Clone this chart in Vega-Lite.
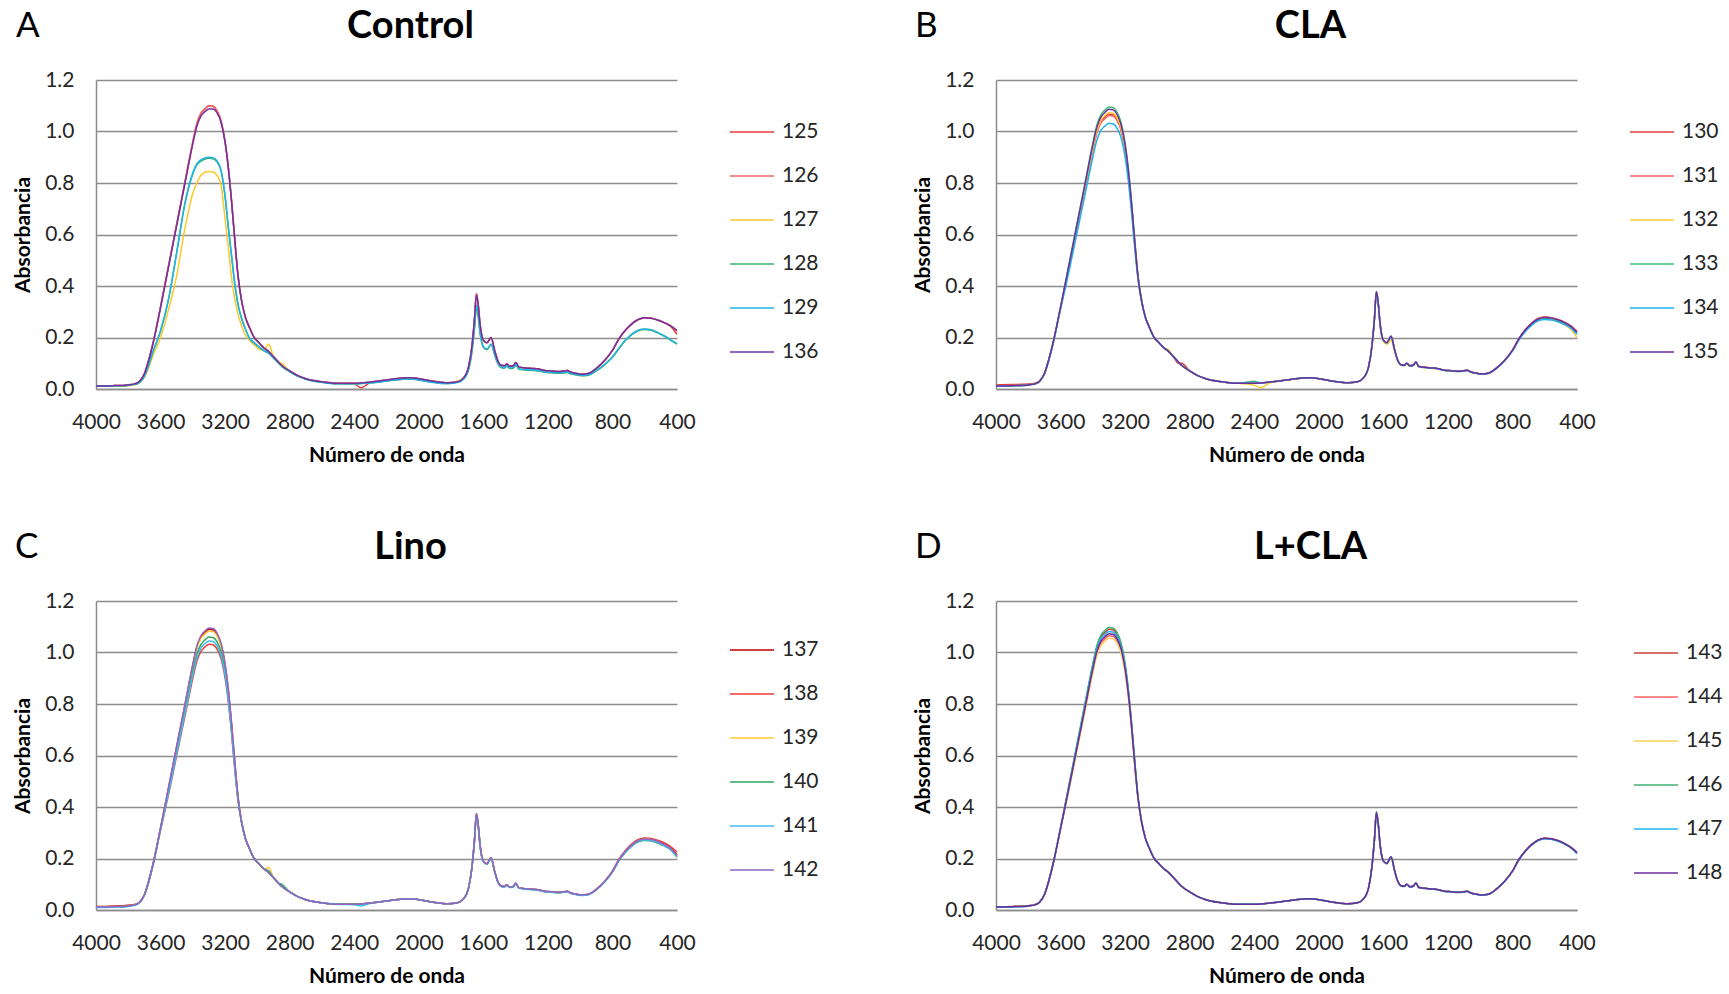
{
"$schema": "https://vega.github.io/schema/vega-lite/v6.json",
"background": "white",
"padding": {"left": 12, "top": 8, "right": 4, "bottom": 4},
"resolve": {"scale": {"color": "independent"}, "legend": {"color": "independent"}},
"config": {
  "font": "Lato",
  "view": {"stroke": null},
  "axis": {"labelFont": "Lato", "labelFontSize": 21, "labelColor": "#262626", "titleFont": "Lato", "titleFontSize": 21, "titleFontWeight": "bold", "titleColor": "#000000", "ticks": false, "domainColor": "#8c8c8c", "domainWidth": 1.5, "gridColor": "#8c8c8c", "gridWidth": 1.5},
  "axisX": {"grid": false, "labelPadding": 22, "titlePadding": 12, "values": [4000, 3600, 3200, 2800, 2400, 2000, 1600, 1200, 800, 400], "labelFlush": false, "format": "d"},
  "axisY": {"labelPadding": 22, "titlePadding": 11, "values": [0, 0.2, 0.4, 0.6, 0.8, 1.0, 1.2], "format": ".1f"},
  "legend": {"title": null, "orient": "none", "direction": "vertical", "symbolType": "stroke", "symbolSize": 1936, "symbolStrokeWidth": 1.5, "labelFont": "Lato", "labelFontSize": 21, "labelColor": "#262626", "labelOffset": 7, "rowPadding": 11, "padding": 0},
  "title": {"font": "Lato", "fontSize": 38, "fontWeight": "bold", "color": "#000000", "frame": "group", "anchor": "middle", "dx": 24, "offset": -37, "baseline": "alphabetic"},
  "line": {"strokeWidth": 1.5, "interpolate": "monotone"}
},
"datasets": {
"A": [
{"w":4000,"125":0.012,"126":0.012,"127":0.01,"128":0.011,"129":0.011,"136":0.012},
{"w":3900,"125":0.013,"126":0.013,"127":0.011,"128":0.012,"129":0.012,"136":0.013},
{"w":3800,"125":0.016,"126":0.016,"127":0.013,"128":0.015,"129":0.015,"136":0.016},
{"w":3760,"125":0.02,"126":0.02,"127":0.016,"128":0.018,"129":0.018,"136":0.02},
{"w":3730,"125":0.03,"126":0.03,"127":0.024,"128":0.026,"129":0.026,"136":0.03},
{"w":3700,"125":0.06,"126":0.06,"127":0.045,"128":0.05,"129":0.05,"136":0.058},
{"w":3675,"125":0.11,"126":0.11,"127":0.08,"128":0.09,"129":0.09,"136":0.107},
{"w":3650,"125":0.17,"126":0.17,"127":0.125,"128":0.14,"129":0.14,"136":0.167},
{"w":3600,"125":0.32,"126":0.32,"127":0.2,"128":0.225,"129":0.225,"136":0.315},
{"w":3550,"125":0.48,"126":0.48,"127":0.31,"128":0.35,"129":0.35,"136":0.475},
{"w":3500,"125":0.64,"126":0.64,"127":0.44,"128":0.53,"129":0.53,"136":0.635},
{"w":3450,"125":0.8,"126":0.8,"127":0.62,"128":0.715,"129":0.72,"136":0.795},
{"w":3400,"125":0.96,"126":0.96,"127":0.76,"128":0.835,"129":0.84,"136":0.952},
{"w":3375,"125":1.03,"126":1.03,"127":0.8,"128":0.87,"129":0.875,"136":1.02},
{"w":3350,"125":1.07,"126":1.07,"127":0.83,"128":0.885,"129":0.89,"136":1.06},
{"w":3325,"125":1.088,"126":1.088,"127":0.842,"128":0.893,"129":0.897,"136":1.077},
{"w":3300,"125":1.1,"126":1.1,"127":0.845,"128":0.896,"129":0.9,"136":1.087},
{"w":3275,"125":1.098,"126":1.098,"127":0.843,"128":0.894,"129":0.898,"136":1.087},
{"w":3250,"125":1.08,"126":1.08,"127":0.83,"128":0.882,"129":0.886,"136":1.072},
{"w":3225,"125":1.04,"126":1.04,"127":0.79,"128":0.846,"129":0.85,"136":1.035},
{"w":3200,"125":0.96,"126":0.96,"127":0.66,"128":0.745,"129":0.75,"136":0.958},
{"w":3180,"125":0.86,"126":0.86,"127":0.55,"128":0.625,"129":0.63,"136":0.858},
{"w":3160,"125":0.73,"126":0.73,"127":0.43,"128":0.515,"129":0.52,"136":0.728},
{"w":3140,"125":0.58,"126":0.58,"127":0.35,"128":0.405,"129":0.41,"136":0.578},
{"w":3120,"125":0.44,"126":0.44,"127":0.29,"128":0.327,"129":0.33,"136":0.44},
{"w":3100,"125":0.35,"126":0.35,"127":0.25,"128":0.277,"129":0.28,"136":0.35},
{"w":3075,"125":0.28,"126":0.28,"127":0.21,"128":0.233,"129":0.235,"136":0.28},
{"w":3050,"125":0.24,"126":0.24,"127":0.19,"128":0.198,"129":0.2,"136":0.24},
{"w":3020,"125":0.2,"126":0.2,"127":0.17,"128":0.178,"129":0.18,"136":0.2},
{"w":2990,"125":0.18,"126":0.18,"127":0.155,"128":0.163,"129":0.165,"136":0.18},
{"w":2960,"125":0.16,"126":0.16,"127":0.15,"128":0.148,"129":0.15,"136":0.16},
{"w":2930,"125":0.145,"126":0.145,"127":0.175,"128":0.138,"129":0.14,"136":0.145},
{"w":2900,"125":0.125,"126":0.125,"127":0.125,"128":0.12,"129":0.122,"136":0.125},
{"w":2870,"125":0.105,"126":0.105,"127":0.105,"128":0.101,"129":0.103,"136":0.105},
{"w":2850,"125":0.092,"126":0.092,"127":0.1,"128":0.088,"129":0.09,"136":0.092},
{"w":2800,"125":0.07,"126":0.07,"127":0.068,"128":0.067,"129":0.068,"136":0.07},
{"w":2750,"125":0.052,"126":0.052,"127":0.05,"128":0.05,"129":0.05,"136":0.052},
{"w":2700,"125":0.04,"126":0.04,"127":0.039,"128":0.038,"129":0.039,"136":0.04},
{"w":2600,"125":0.028,"126":0.028,"127":0.027,"128":0.026,"129":0.026,"136":0.028},
{"w":2500,"125":0.022,"126":0.022,"127":0.021,"128":0.02,"129":0.02,"136":0.022},
{"w":2400,"125":0.02,"126":0.022,"127":0.021,"128":0.02,"129":0.02,"136":0.022},
{"w":2360,"125":0.005,"126":0.023,"127":0.022,"128":0.021,"129":0.021,"136":0.023},
{"w":2300,"125":0.025,"126":0.027,"127":0.025,"128":0.024,"129":0.024,"136":0.027},
{"w":2200,"125":0.035,"126":0.035,"127":0.032,"128":0.031,"129":0.031,"136":0.035},
{"w":2100,"125":0.043,"126":0.043,"127":0.039,"128":0.038,"129":0.038,"136":0.043},
{"w":2050,"125":0.044,"126":0.044,"127":0.04,"128":0.039,"129":0.039,"136":0.044},
{"w":2000,"125":0.04,"126":0.04,"127":0.036,"128":0.035,"129":0.035,"136":0.04},
{"w":1900,"125":0.029,"126":0.029,"127":0.026,"128":0.025,"129":0.025,"136":0.029},
{"w":1820,"125":0.024,"126":0.024,"127":0.022,"128":0.021,"129":0.021,"136":0.024},
{"w":1760,"125":0.028,"126":0.028,"127":0.03,"128":0.026,"129":0.026,"136":0.028},
{"w":1720,"125":0.045,"126":0.045,"127":0.045,"128":0.04,"129":0.04,"136":0.045},
{"w":1690,"125":0.09,"126":0.09,"127":0.078,"128":0.08,"129":0.08,"136":0.09},
{"w":1670,"125":0.17,"126":0.17,"127":0.145,"128":0.15,"129":0.15,"136":0.17},
{"w":1655,"125":0.27,"126":0.27,"127":0.23,"128":0.237,"129":0.24,"136":0.27},
{"w":1643,"125":0.37,"126":0.372,"127":0.31,"128":0.32,"129":0.325,"136":0.365},
{"w":1632,"125":0.33,"126":0.332,"127":0.28,"128":0.287,"129":0.29,"136":0.328},
{"w":1620,"125":0.25,"126":0.25,"127":0.215,"128":0.218,"129":0.22,"136":0.25},
{"w":1600,"125":0.19,"126":0.19,"127":0.163,"128":0.163,"129":0.165,"136":0.19},
{"w":1578,"125":0.18,"126":0.18,"127":0.153,"128":0.153,"129":0.155,"136":0.18},
{"w":1552,"125":0.2,"126":0.2,"127":0.172,"128":0.173,"129":0.175,"136":0.2},
{"w":1530,"125":0.15,"126":0.15,"127":0.133,"128":0.133,"129":0.135,"136":0.15},
{"w":1510,"125":0.11,"126":0.11,"127":0.098,"128":0.098,"129":0.1,"136":0.11},
{"w":1490,"125":0.092,"126":0.092,"127":0.083,"128":0.083,"129":0.085,"136":0.092},
{"w":1470,"125":0.09,"126":0.09,"127":0.081,"128":0.081,"129":0.083,"136":0.09},
{"w":1455,"125":0.097,"126":0.097,"127":0.088,"128":0.088,"129":0.09,"136":0.097},
{"w":1435,"125":0.088,"126":0.088,"127":0.08,"128":0.08,"129":0.082,"136":0.088},
{"w":1415,"125":0.09,"126":0.09,"127":0.081,"128":0.081,"129":0.083,"136":0.09},
{"w":1398,"125":0.103,"126":0.103,"127":0.093,"128":0.093,"129":0.095,"136":0.103},
{"w":1380,"125":0.085,"126":0.085,"127":0.077,"128":0.077,"129":0.078,"136":0.085},
{"w":1340,"125":0.082,"126":0.082,"127":0.075,"128":0.074,"129":0.076,"136":0.082},
{"w":1300,"125":0.08,"126":0.08,"127":0.073,"128":0.072,"129":0.074,"136":0.08},
{"w":1260,"125":0.078,"126":0.078,"127":0.071,"128":0.07,"129":0.072,"136":0.078},
{"w":1220,"125":0.072,"126":0.072,"127":0.066,"128":0.065,"129":0.067,"136":0.072},
{"w":1180,"125":0.07,"126":0.07,"127":0.064,"128":0.063,"129":0.065,"136":0.07},
{"w":1130,"125":0.068,"126":0.068,"127":0.062,"128":0.061,"129":0.063,"136":0.068},
{"w":1080,"125":0.072,"126":0.072,"127":0.065,"128":0.064,"129":0.066,"136":0.072},
{"w":1060,"125":0.066,"126":0.066,"127":0.06,"128":0.059,"129":0.061,"136":0.066},
{"w":1020,"125":0.06,"126":0.06,"127":0.055,"128":0.054,"129":0.056,"136":0.06},
{"w":990,"125":0.057,"126":0.057,"127":0.052,"128":0.051,"129":0.053,"136":0.057},
{"w":950,"125":0.06,"126":0.06,"127":0.054,"128":0.053,"129":0.055,"136":0.06},
{"w":900,"125":0.08,"126":0.08,"127":0.071,"128":0.07,"129":0.072,"136":0.08},
{"w":850,"125":0.11,"126":0.11,"127":0.094,"128":0.093,"129":0.095,"136":0.11},
{"w":800,"125":0.15,"126":0.15,"127":0.124,"128":0.123,"129":0.125,"136":0.15},
{"w":760,"125":0.195,"126":0.195,"127":0.157,"128":0.156,"129":0.158,"136":0.195},
{"w":720,"125":0.228,"126":0.228,"127":0.189,"128":0.188,"129":0.19,"136":0.228},
{"w":680,"125":0.253,"126":0.253,"127":0.212,"128":0.211,"129":0.213,"136":0.253},
{"w":640,"125":0.27,"126":0.27,"127":0.227,"128":0.226,"129":0.228,"136":0.27},
{"w":600,"125":0.277,"126":0.277,"127":0.232,"128":0.231,"129":0.233,"136":0.277},
{"w":560,"125":0.275,"126":0.275,"127":0.229,"128":0.228,"129":0.23,"136":0.275},
{"w":520,"125":0.268,"126":0.268,"127":0.219,"128":0.218,"129":0.22,"136":0.268},
{"w":480,"125":0.258,"126":0.258,"127":0.206,"128":0.205,"129":0.207,"136":0.258},
{"w":440,"125":0.244,"126":0.246,"127":0.191,"128":0.19,"129":0.192,"136":0.245},
{"w":400,"125":0.212,"126":0.225,"127":0.175,"128":0.174,"129":0.176,"136":0.228}
],
"B": [
{"w":4000,"130":0.016,"131":0.013,"132":0.011,"133":0.012,"134":0.011,"135":0.012},
{"w":3900,"130":0.017,"131":0.014,"132":0.012,"133":0.013,"134":0.012,"135":0.013},
{"w":3800,"130":0.019,"131":0.017,"132":0.015,"133":0.016,"134":0.015,"135":0.016},
{"w":3760,"130":0.022,"131":0.02,"132":0.019,"133":0.02,"134":0.019,"135":0.02},
{"w":3730,"130":0.031,"131":0.03,"132":0.029,"133":0.03,"134":0.029,"135":0.03},
{"w":3700,"130":0.06,"131":0.059,"132":0.058,"133":0.06,"134":0.057,"135":0.06},
{"w":3675,"130":0.11,"131":0.108,"132":0.108,"133":0.11,"134":0.105,"135":0.11},
{"w":3650,"130":0.169,"131":0.168,"132":0.168,"133":0.17,"134":0.165,"135":0.17},
{"w":3600,"130":0.315,"131":0.314,"132":0.316,"133":0.319,"134":0.31,"135":0.318},
{"w":3550,"130":0.466,"131":0.463,"132":0.468,"133":0.478,"134":0.45,"135":0.474},
{"w":3500,"130":0.621,"131":0.618,"132":0.624,"133":0.637,"134":0.6,"135":0.632},
{"w":3450,"130":0.777,"131":0.772,"132":0.78,"133":0.796,"134":0.75,"135":0.79},
{"w":3400,"130":0.932,"131":0.926,"132":0.936,"133":0.955,"134":0.9,"135":0.948},
{"w":3375,"130":1.0,"131":0.994,"132":1.004,"133":1.025,"134":0.966,"135":1.017},
{"w":3350,"130":1.039,"131":1.033,"132":1.043,"133":1.065,"134":1.004,"135":1.056},
{"w":3325,"130":1.056,"131":1.05,"132":1.061,"133":1.083,"134":1.021,"135":1.074},
{"w":3300,"130":1.068,"131":1.062,"132":1.073,"133":1.095,"134":1.032,"135":1.086},
{"w":3275,"130":1.066,"131":1.06,"132":1.071,"133":1.093,"134":1.03,"135":1.084},
{"w":3250,"130":1.049,"131":1.042,"132":1.053,"133":1.075,"134":1.013,"135":1.066},
{"w":3225,"130":1.01,"131":1.004,"132":1.014,"133":1.035,"134":0.976,"135":1.026},
{"w":3200,"130":0.932,"131":0.926,"132":0.936,"133":0.955,"134":0.9,"135":0.948},
{"w":3180,"130":0.835,"131":0.83,"132":0.839,"133":0.856,"134":0.807,"135":0.849},
{"w":3160,"130":0.709,"131":0.704,"132":0.712,"133":0.726,"134":0.685,"135":0.721},
{"w":3140,"130":0.563,"131":0.56,"132":0.566,"133":0.577,"134":0.544,"135":0.572},
{"w":3120,"130":0.434,"131":0.432,"132":0.435,"133":0.439,"134":0.426,"135":0.437},
{"w":3100,"130":0.35,"131":0.35,"132":0.35,"133":0.35,"134":0.345,"135":0.35},
{"w":3075,"130":0.28,"131":0.28,"132":0.28,"133":0.28,"134":0.277,"135":0.28},
{"w":3050,"130":0.24,"131":0.24,"132":0.24,"133":0.24,"134":0.238,"135":0.24},
{"w":3020,"130":0.2,"131":0.2,"132":0.2,"133":0.2,"134":0.199,"135":0.2},
{"w":2990,"130":0.18,"131":0.18,"132":0.18,"133":0.18,"134":0.18,"135":0.18},
{"w":2960,"130":0.16,"131":0.16,"132":0.16,"133":0.16,"134":0.16,"135":0.16},
{"w":2930,"130":0.145,"131":0.145,"132":0.152,"133":0.145,"134":0.145,"135":0.145},
{"w":2900,"130":0.125,"131":0.125,"132":0.125,"133":0.125,"134":0.125,"135":0.125},
{"w":2870,"130":0.1,"131":0.105,"132":0.105,"133":0.105,"134":0.105,"135":0.105},
{"w":2850,"130":0.1,"131":0.092,"132":0.092,"133":0.092,"134":0.092,"135":0.092},
{"w":2800,"130":0.07,"131":0.07,"132":0.07,"133":0.07,"134":0.07,"135":0.07},
{"w":2750,"130":0.052,"131":0.052,"132":0.052,"133":0.052,"134":0.052,"135":0.052},
{"w":2700,"130":0.04,"131":0.04,"132":0.04,"133":0.04,"134":0.04,"135":0.04},
{"w":2600,"130":0.028,"131":0.028,"132":0.028,"133":0.028,"134":0.028,"135":0.028},
{"w":2500,"130":0.022,"131":0.022,"132":0.022,"133":0.022,"134":0.022,"135":0.022},
{"w":2400,"130":0.022,"131":0.022,"132":0.015,"133":0.03,"134":0.022,"135":0.022},
{"w":2360,"130":0.023,"131":0.023,"132":0.005,"133":0.024,"134":0.023,"135":0.023},
{"w":2300,"130":0.027,"131":0.027,"132":0.024,"133":0.027,"134":0.027,"135":0.027},
{"w":2200,"130":0.035,"131":0.035,"132":0.035,"133":0.035,"134":0.035,"135":0.035},
{"w":2100,"130":0.043,"131":0.043,"132":0.043,"133":0.043,"134":0.043,"135":0.043},
{"w":2050,"130":0.044,"131":0.044,"132":0.044,"133":0.044,"134":0.044,"135":0.044},
{"w":2000,"130":0.04,"131":0.04,"132":0.04,"133":0.04,"134":0.04,"135":0.04},
{"w":1900,"130":0.029,"131":0.029,"132":0.029,"133":0.029,"134":0.029,"135":0.029},
{"w":1820,"130":0.024,"131":0.024,"132":0.024,"133":0.024,"134":0.024,"135":0.024},
{"w":1760,"130":0.028,"131":0.028,"132":0.028,"133":0.028,"134":0.028,"135":0.028},
{"w":1720,"130":0.045,"131":0.045,"132":0.045,"133":0.045,"134":0.045,"135":0.045},
{"w":1690,"130":0.09,"131":0.09,"132":0.09,"133":0.09,"134":0.09,"135":0.09},
{"w":1670,"130":0.17,"131":0.17,"132":0.168,"133":0.172,"134":0.168,"135":0.17},
{"w":1655,"130":0.274,"131":0.273,"132":0.268,"133":0.276,"134":0.27,"135":0.274},
{"w":1643,"130":0.378,"131":0.376,"132":0.37,"133":0.38,"134":0.372,"135":0.378},
{"w":1632,"130":0.336,"131":0.335,"132":0.33,"133":0.338,"134":0.331,"135":0.336},
{"w":1620,"130":0.252,"131":0.252,"132":0.248,"133":0.254,"134":0.25,"135":0.252},
{"w":1600,"130":0.19,"131":0.19,"132":0.186,"133":0.19,"134":0.19,"135":0.19},
{"w":1578,"130":0.18,"131":0.18,"132":0.174,"133":0.18,"134":0.18,"135":0.18},
{"w":1552,"130":0.205,"131":0.205,"132":0.19,"133":0.205,"134":0.203,"135":0.205},
{"w":1530,"130":0.152,"131":0.152,"132":0.145,"133":0.152,"134":0.15,"135":0.152},
{"w":1510,"130":0.11,"131":0.11,"132":0.108,"133":0.11,"134":0.11,"135":0.11},
{"w":1490,"130":0.094,"131":0.094,"132":0.092,"133":0.094,"134":0.093,"135":0.094},
{"w":1470,"130":0.092,"131":0.092,"132":0.09,"133":0.092,"134":0.091,"135":0.092},
{"w":1455,"130":0.1,"131":0.1,"132":0.097,"133":0.1,"134":0.099,"135":0.1},
{"w":1435,"130":0.09,"131":0.09,"132":0.088,"133":0.09,"134":0.089,"135":0.09},
{"w":1415,"130":0.092,"131":0.092,"132":0.09,"133":0.092,"134":0.091,"135":0.092},
{"w":1398,"130":0.105,"131":0.105,"132":0.102,"133":0.105,"134":0.104,"135":0.105},
{"w":1380,"130":0.087,"131":0.087,"132":0.085,"133":0.087,"134":0.086,"135":0.087},
{"w":1340,"130":0.084,"131":0.084,"132":0.082,"133":0.084,"134":0.083,"135":0.084},
{"w":1300,"130":0.082,"131":0.082,"132":0.08,"133":0.082,"134":0.081,"135":0.082},
{"w":1260,"130":0.079,"131":0.079,"132":0.078,"133":0.079,"134":0.078,"135":0.079},
{"w":1220,"130":0.073,"131":0.073,"132":0.072,"133":0.073,"134":0.072,"135":0.073},
{"w":1180,"130":0.071,"131":0.071,"132":0.07,"133":0.071,"134":0.07,"135":0.071},
{"w":1130,"130":0.069,"131":0.069,"132":0.068,"133":0.069,"134":0.068,"135":0.069},
{"w":1080,"130":0.073,"131":0.073,"132":0.072,"133":0.073,"134":0.072,"135":0.073},
{"w":1060,"130":0.067,"131":0.067,"132":0.066,"133":0.067,"134":0.066,"135":0.067},
{"w":1020,"130":0.061,"131":0.061,"132":0.06,"133":0.061,"134":0.06,"135":0.061},
{"w":990,"130":0.058,"131":0.058,"132":0.057,"133":0.058,"134":0.057,"135":0.058},
{"w":950,"130":0.061,"131":0.061,"132":0.06,"133":0.061,"134":0.06,"135":0.061},
{"w":900,"130":0.081,"131":0.081,"132":0.08,"133":0.08,"134":0.079,"135":0.081},
{"w":850,"130":0.111,"131":0.111,"132":0.109,"133":0.11,"134":0.108,"135":0.11},
{"w":800,"130":0.151,"131":0.151,"132":0.148,"133":0.149,"134":0.147,"135":0.15},
{"w":760,"130":0.196,"131":0.196,"132":0.192,"133":0.194,"134":0.19,"135":0.195},
{"w":720,"130":0.23,"131":0.23,"132":0.225,"133":0.227,"134":0.223,"135":0.229},
{"w":680,"130":0.256,"131":0.256,"132":0.25,"133":0.252,"134":0.248,"135":0.255},
{"w":640,"130":0.274,"131":0.274,"132":0.267,"133":0.269,"134":0.265,"135":0.272},
{"w":600,"130":0.28,"131":0.28,"132":0.272,"133":0.275,"134":0.27,"135":0.278},
{"w":560,"130":0.277,"131":0.277,"132":0.27,"133":0.273,"134":0.268,"135":0.276},
{"w":520,"130":0.27,"131":0.27,"132":0.262,"133":0.266,"134":0.261,"135":0.269},
{"w":480,"130":0.26,"131":0.26,"132":0.25,"133":0.256,"134":0.251,"135":0.259},
{"w":440,"130":0.245,"131":0.246,"132":0.232,"133":0.242,"134":0.237,"135":0.244},
{"w":400,"130":0.222,"131":0.226,"132":0.2,"133":0.217,"134":0.212,"135":0.22}
],
"C": [
{"w":4000,"137":0.014,"138":0.013,"139":0.012,"140":0.011,"141":0.01,"142":0.012},
{"w":3900,"137":0.015,"138":0.014,"139":0.013,"140":0.012,"141":0.011,"142":0.013},
{"w":3800,"137":0.018,"138":0.017,"139":0.016,"140":0.015,"141":0.014,"142":0.016},
{"w":3760,"137":0.021,"138":0.02,"139":0.02,"140":0.019,"141":0.018,"142":0.02},
{"w":3730,"137":0.031,"138":0.029,"139":0.03,"140":0.029,"141":0.028,"142":0.03},
{"w":3700,"137":0.06,"138":0.057,"139":0.06,"140":0.058,"141":0.057,"142":0.06},
{"w":3675,"137":0.11,"138":0.105,"139":0.109,"140":0.107,"141":0.106,"142":0.11},
{"w":3650,"137":0.17,"138":0.165,"139":0.169,"140":0.167,"141":0.166,"142":0.17},
{"w":3600,"137":0.319,"138":0.31,"139":0.318,"140":0.314,"141":0.312,"142":0.319},
{"w":3550,"137":0.476,"138":0.45,"139":0.473,"140":0.463,"141":0.456,"142":0.478},
{"w":3500,"137":0.634,"138":0.6,"139":0.63,"140":0.617,"141":0.608,"142":0.637},
{"w":3450,"137":0.793,"138":0.75,"139":0.788,"140":0.771,"141":0.76,"142":0.796},
{"w":3400,"137":0.951,"138":0.9,"139":0.946,"140":0.925,"141":0.912,"142":0.955},
{"w":3375,"137":1.021,"138":0.966,"139":1.015,"140":0.993,"141":0.979,"142":1.025},
{"w":3350,"137":1.06,"138":1.004,"139":1.054,"140":1.031,"141":1.017,"142":1.065},
{"w":3325,"137":1.078,"138":1.021,"139":1.072,"140":1.049,"141":1.034,"142":1.083},
{"w":3300,"137":1.09,"138":1.032,"139":1.083,"140":1.06,"141":1.045,"142":1.095},
{"w":3275,"137":1.088,"138":1.03,"139":1.082,"140":1.058,"141":1.043,"142":1.093},
{"w":3250,"137":1.07,"138":1.013,"139":1.064,"140":1.041,"141":1.026,"142":1.075},
{"w":3225,"137":1.031,"138":0.976,"139":1.024,"140":1.003,"141":0.988,"142":1.035},
{"w":3200,"137":0.951,"138":0.9,"139":0.946,"140":0.925,"141":0.912,"142":0.955},
{"w":3180,"137":0.852,"138":0.807,"139":0.847,"140":0.829,"141":0.817,"142":0.856},
{"w":3160,"137":0.723,"138":0.685,"139":0.719,"140":0.704,"141":0.694,"142":0.726},
{"w":3140,"137":0.575,"138":0.544,"139":0.571,"140":0.559,"141":0.551,"142":0.577},
{"w":3120,"137":0.438,"138":0.426,"139":0.437,"140":0.432,"141":0.429,"142":0.439},
{"w":3100,"137":0.35,"138":0.345,"139":0.35,"140":0.348,"141":0.347,"142":0.35},
{"w":3075,"137":0.28,"138":0.277,"139":0.28,"140":0.279,"141":0.278,"142":0.28},
{"w":3050,"137":0.24,"138":0.238,"139":0.24,"140":0.24,"141":0.239,"142":0.24},
{"w":3020,"137":0.2,"138":0.199,"139":0.2,"140":0.2,"141":0.2,"142":0.2},
{"w":2990,"137":0.18,"138":0.18,"139":0.18,"140":0.18,"141":0.18,"142":0.18},
{"w":2960,"137":0.16,"138":0.16,"139":0.158,"140":0.16,"141":0.16,"142":0.16},
{"w":2930,"137":0.145,"138":0.145,"139":0.165,"140":0.152,"141":0.145,"142":0.145},
{"w":2900,"137":0.125,"138":0.125,"139":0.125,"140":0.125,"141":0.125,"142":0.125},
{"w":2870,"137":0.105,"138":0.105,"139":0.105,"140":0.104,"141":0.105,"142":0.105},
{"w":2850,"137":0.092,"138":0.092,"139":0.092,"140":0.1,"141":0.092,"142":0.092},
{"w":2800,"137":0.07,"138":0.07,"139":0.07,"140":0.07,"141":0.07,"142":0.07},
{"w":2750,"137":0.052,"138":0.052,"139":0.052,"140":0.052,"141":0.052,"142":0.052},
{"w":2700,"137":0.04,"138":0.04,"139":0.04,"140":0.04,"141":0.04,"142":0.04},
{"w":2600,"137":0.028,"138":0.028,"139":0.028,"140":0.028,"141":0.028,"142":0.028},
{"w":2500,"137":0.022,"138":0.022,"139":0.022,"140":0.022,"141":0.022,"142":0.022},
{"w":2400,"137":0.022,"138":0.022,"139":0.022,"140":0.022,"141":0.02,"142":0.022},
{"w":2360,"137":0.023,"138":0.023,"139":0.023,"140":0.023,"141":0.016,"142":0.023},
{"w":2300,"137":0.027,"138":0.027,"139":0.027,"140":0.027,"141":0.026,"142":0.027},
{"w":2200,"137":0.035,"138":0.035,"139":0.035,"140":0.035,"141":0.035,"142":0.035},
{"w":2100,"137":0.043,"138":0.043,"139":0.043,"140":0.043,"141":0.043,"142":0.043},
{"w":2050,"137":0.044,"138":0.044,"139":0.044,"140":0.044,"141":0.044,"142":0.044},
{"w":2000,"137":0.04,"138":0.04,"139":0.04,"140":0.04,"141":0.04,"142":0.04},
{"w":1900,"137":0.029,"138":0.029,"139":0.029,"140":0.029,"141":0.029,"142":0.029},
{"w":1820,"137":0.024,"138":0.024,"139":0.024,"140":0.024,"141":0.024,"142":0.024},
{"w":1760,"137":0.028,"138":0.028,"139":0.028,"140":0.028,"141":0.028,"142":0.028},
{"w":1720,"137":0.045,"138":0.045,"139":0.045,"140":0.045,"141":0.045,"142":0.045},
{"w":1690,"137":0.09,"138":0.09,"139":0.09,"140":0.09,"141":0.09,"142":0.09},
{"w":1670,"137":0.17,"138":0.169,"139":0.17,"140":0.168,"141":0.167,"142":0.17},
{"w":1655,"137":0.272,"138":0.269,"139":0.27,"140":0.268,"141":0.266,"142":0.272},
{"w":1643,"137":0.375,"138":0.37,"139":0.372,"140":0.368,"141":0.365,"142":0.375},
{"w":1632,"137":0.334,"138":0.33,"139":0.332,"140":0.328,"141":0.326,"142":0.334},
{"w":1620,"137":0.252,"138":0.25,"139":0.25,"140":0.248,"141":0.247,"142":0.252},
{"w":1600,"137":0.19,"138":0.19,"139":0.19,"140":0.188,"141":0.188,"142":0.19},
{"w":1578,"137":0.18,"138":0.18,"139":0.18,"140":0.178,"141":0.178,"142":0.18},
{"w":1552,"137":0.203,"138":0.202,"139":0.202,"140":0.2,"141":0.2,"142":0.203},
{"w":1530,"137":0.151,"138":0.15,"139":0.15,"140":0.149,"141":0.149,"142":0.151},
{"w":1510,"137":0.11,"138":0.11,"139":0.11,"140":0.109,"141":0.109,"142":0.11},
{"w":1490,"137":0.093,"138":0.092,"139":0.092,"140":0.092,"141":0.091,"142":0.093},
{"w":1470,"137":0.091,"138":0.09,"139":0.09,"140":0.09,"141":0.089,"142":0.091},
{"w":1455,"137":0.098,"138":0.097,"139":0.097,"140":0.097,"141":0.096,"142":0.098},
{"w":1435,"137":0.089,"138":0.088,"139":0.088,"140":0.088,"141":0.087,"142":0.089},
{"w":1415,"137":0.091,"138":0.09,"139":0.09,"140":0.09,"141":0.089,"142":0.091},
{"w":1398,"137":0.104,"138":0.103,"139":0.103,"140":0.103,"141":0.102,"142":0.104},
{"w":1380,"137":0.086,"138":0.085,"139":0.085,"140":0.085,"141":0.084,"142":0.086},
{"w":1340,"137":0.083,"138":0.082,"139":0.082,"140":0.082,"141":0.081,"142":0.083},
{"w":1300,"137":0.081,"138":0.08,"139":0.08,"140":0.08,"141":0.079,"142":0.081},
{"w":1260,"137":0.079,"138":0.078,"139":0.078,"140":0.078,"141":0.077,"142":0.079},
{"w":1220,"137":0.073,"138":0.072,"139":0.072,"140":0.072,"141":0.071,"142":0.073},
{"w":1180,"137":0.071,"138":0.07,"139":0.07,"140":0.07,"141":0.069,"142":0.071},
{"w":1130,"137":0.069,"138":0.068,"139":0.068,"140":0.068,"141":0.067,"142":0.069},
{"w":1080,"137":0.073,"138":0.072,"139":0.072,"140":0.072,"141":0.071,"142":0.073},
{"w":1060,"137":0.067,"138":0.066,"139":0.066,"140":0.066,"141":0.065,"142":0.067},
{"w":1020,"137":0.061,"138":0.06,"139":0.06,"140":0.06,"141":0.059,"142":0.061},
{"w":990,"137":0.058,"138":0.057,"139":0.057,"140":0.057,"141":0.056,"142":0.058},
{"w":950,"137":0.061,"138":0.06,"139":0.06,"140":0.06,"141":0.059,"142":0.061},
{"w":900,"137":0.08,"138":0.081,"139":0.08,"140":0.079,"141":0.079,"142":0.08},
{"w":850,"137":0.11,"138":0.111,"139":0.11,"140":0.108,"141":0.109,"142":0.11},
{"w":800,"137":0.15,"138":0.151,"139":0.149,"140":0.147,"141":0.148,"142":0.15},
{"w":760,"137":0.195,"138":0.197,"139":0.194,"140":0.191,"141":0.192,"142":0.195},
{"w":720,"137":0.228,"138":0.231,"139":0.227,"140":0.223,"141":0.225,"142":0.228},
{"w":680,"137":0.253,"138":0.257,"139":0.252,"140":0.248,"141":0.25,"142":0.253},
{"w":640,"137":0.27,"138":0.274,"139":0.269,"140":0.265,"141":0.267,"142":0.27},
{"w":600,"137":0.277,"138":0.28,"139":0.275,"140":0.27,"141":0.272,"142":0.276},
{"w":560,"137":0.275,"138":0.278,"139":0.273,"140":0.268,"141":0.27,"142":0.274},
{"w":520,"137":0.267,"138":0.271,"139":0.265,"140":0.26,"141":0.262,"142":0.266},
{"w":480,"137":0.256,"138":0.261,"139":0.253,"140":0.249,"141":0.251,"142":0.255},
{"w":440,"137":0.24,"138":0.246,"139":0.238,"140":0.234,"141":0.236,"142":0.24},
{"w":400,"137":0.215,"138":0.225,"139":0.21,"140":0.205,"141":0.208,"142":0.212}
],
"D": [
{"w":4000,"143":0.013,"144":0.012,"145":0.011,"146":0.012,"147":0.011,"148":0.012},
{"w":3900,"143":0.014,"144":0.013,"145":0.012,"146":0.013,"147":0.012,"148":0.013},
{"w":3800,"143":0.017,"144":0.016,"145":0.015,"146":0.016,"147":0.015,"148":0.016},
{"w":3760,"143":0.021,"144":0.02,"145":0.019,"146":0.02,"147":0.02,"148":0.02},
{"w":3730,"143":0.031,"144":0.03,"145":0.029,"146":0.03,"147":0.03,"148":0.03},
{"w":3700,"143":0.06,"144":0.059,"145":0.058,"146":0.06,"147":0.06,"148":0.059},
{"w":3675,"143":0.11,"144":0.108,"145":0.107,"146":0.11,"147":0.109,"148":0.108},
{"w":3650,"143":0.17,"144":0.168,"145":0.167,"146":0.17,"147":0.169,"148":0.168},
{"w":3600,"143":0.319,"144":0.315,"145":0.313,"146":0.32,"147":0.317,"148":0.316},
{"w":3550,"143":0.476,"144":0.465,"145":0.46,"146":0.479,"147":0.472,"148":0.468},
{"w":3500,"143":0.634,"144":0.62,"145":0.614,"146":0.638,"147":0.63,"148":0.624},
{"w":3450,"143":0.793,"144":0.774,"145":0.767,"146":0.798,"147":0.787,"148":0.78},
{"w":3400,"143":0.951,"144":0.929,"145":0.921,"146":0.957,"147":0.945,"148":0.936},
{"w":3375,"143":1.021,"144":0.997,"145":0.988,"146":1.027,"147":1.014,"148":1.004},
{"w":3350,"143":1.06,"144":1.036,"145":1.026,"146":1.067,"147":1.053,"148":1.043},
{"w":3325,"143":1.078,"144":1.053,"145":1.043,"146":1.085,"147":1.071,"148":1.061},
{"w":3300,"143":1.09,"144":1.065,"145":1.055,"146":1.097,"147":1.082,"148":1.073},
{"w":3275,"143":1.088,"144":1.063,"145":1.053,"146":1.095,"147":1.08,"148":1.071},
{"w":3250,"143":1.07,"144":1.045,"145":1.036,"146":1.077,"147":1.063,"148":1.053},
{"w":3225,"143":1.031,"144":1.007,"145":0.997,"146":1.037,"147":1.023,"148":1.014},
{"w":3200,"143":0.951,"144":0.929,"145":0.921,"146":0.957,"147":0.945,"148":0.936},
{"w":3180,"143":0.852,"144":0.832,"145":0.825,"146":0.857,"147":0.846,"148":0.839},
{"w":3160,"143":0.723,"144":0.707,"145":0.7,"146":0.728,"147":0.718,"148":0.712},
{"w":3140,"143":0.575,"144":0.561,"145":0.556,"146":0.578,"147":0.571,"148":0.566},
{"w":3120,"143":0.438,"144":0.433,"145":0.431,"146":0.439,"147":0.437,"148":0.435},
{"w":3100,"143":0.35,"144":0.349,"145":0.348,"146":0.35,"147":0.35,"148":0.349},
{"w":3075,"143":0.28,"144":0.28,"145":0.279,"146":0.28,"147":0.28,"148":0.28},
{"w":3050,"143":0.24,"144":0.24,"145":0.24,"146":0.24,"147":0.24,"148":0.24},
{"w":3020,"143":0.2,"144":0.2,"145":0.2,"146":0.2,"147":0.2,"148":0.2},
{"w":2990,"143":0.18,"144":0.18,"145":0.18,"146":0.18,"147":0.18,"148":0.18},
{"w":2960,"143":0.16,"144":0.16,"145":0.16,"146":0.16,"147":0.16,"148":0.16},
{"w":2930,"143":0.145,"144":0.145,"145":0.145,"146":0.145,"147":0.145,"148":0.145},
{"w":2900,"143":0.125,"144":0.125,"145":0.125,"146":0.125,"147":0.125,"148":0.125},
{"w":2870,"143":0.105,"144":0.105,"145":0.105,"146":0.105,"147":0.105,"148":0.105},
{"w":2850,"143":0.092,"144":0.092,"145":0.092,"146":0.092,"147":0.092,"148":0.092},
{"w":2800,"143":0.07,"144":0.07,"145":0.07,"146":0.07,"147":0.07,"148":0.07},
{"w":2750,"143":0.052,"144":0.052,"145":0.052,"146":0.052,"147":0.052,"148":0.052},
{"w":2700,"143":0.04,"144":0.04,"145":0.04,"146":0.04,"147":0.04,"148":0.04},
{"w":2600,"143":0.028,"144":0.028,"145":0.028,"146":0.028,"147":0.028,"148":0.028},
{"w":2500,"143":0.022,"144":0.022,"145":0.022,"146":0.022,"147":0.022,"148":0.022},
{"w":2400,"143":0.022,"144":0.022,"145":0.022,"146":0.022,"147":0.022,"148":0.022},
{"w":2360,"143":0.023,"144":0.023,"145":0.023,"146":0.023,"147":0.023,"148":0.023},
{"w":2300,"143":0.027,"144":0.027,"145":0.027,"146":0.027,"147":0.027,"148":0.027},
{"w":2200,"143":0.035,"144":0.035,"145":0.035,"146":0.035,"147":0.035,"148":0.035},
{"w":2100,"143":0.043,"144":0.043,"145":0.043,"146":0.043,"147":0.043,"148":0.043},
{"w":2050,"143":0.044,"144":0.044,"145":0.044,"146":0.044,"147":0.044,"148":0.044},
{"w":2000,"143":0.04,"144":0.04,"145":0.04,"146":0.04,"147":0.04,"148":0.04},
{"w":1900,"143":0.029,"144":0.029,"145":0.029,"146":0.029,"147":0.029,"148":0.029},
{"w":1820,"143":0.024,"144":0.024,"145":0.024,"146":0.024,"147":0.024,"148":0.024},
{"w":1760,"143":0.028,"144":0.028,"145":0.028,"146":0.028,"147":0.028,"148":0.028},
{"w":1720,"143":0.045,"144":0.045,"145":0.045,"146":0.045,"147":0.045,"148":0.045},
{"w":1690,"143":0.09,"144":0.09,"145":0.09,"146":0.09,"147":0.09,"148":0.09},
{"w":1670,"143":0.172,"144":0.171,"145":0.17,"146":0.173,"147":0.171,"148":0.171},
{"w":1655,"143":0.276,"144":0.275,"145":0.272,"146":0.278,"147":0.273,"148":0.275},
{"w":1643,"143":0.38,"144":0.378,"145":0.375,"146":0.382,"147":0.376,"148":0.378},
{"w":1632,"143":0.338,"144":0.336,"145":0.334,"146":0.34,"147":0.335,"148":0.336},
{"w":1620,"143":0.254,"144":0.253,"145":0.252,"146":0.255,"147":0.252,"148":0.253},
{"w":1600,"143":0.192,"144":0.191,"145":0.19,"146":0.192,"147":0.19,"148":0.191},
{"w":1578,"143":0.182,"144":0.181,"145":0.18,"146":0.182,"147":0.18,"148":0.181},
{"w":1552,"143":0.207,"144":0.206,"145":0.205,"146":0.208,"147":0.205,"148":0.206},
{"w":1530,"143":0.153,"144":0.152,"145":0.151,"146":0.153,"147":0.151,"148":0.152},
{"w":1510,"143":0.111,"144":0.111,"145":0.11,"146":0.111,"147":0.11,"148":0.111},
{"w":1490,"143":0.094,"144":0.094,"145":0.093,"146":0.094,"147":0.093,"148":0.094},
{"w":1470,"143":0.092,"144":0.092,"145":0.091,"146":0.092,"147":0.091,"148":0.092},
{"w":1455,"143":0.1,"144":0.1,"145":0.099,"146":0.1,"147":0.099,"148":0.1},
{"w":1435,"143":0.09,"144":0.09,"145":0.089,"146":0.09,"147":0.089,"148":0.09},
{"w":1415,"143":0.092,"144":0.092,"145":0.091,"146":0.092,"147":0.091,"148":0.092},
{"w":1398,"143":0.105,"144":0.105,"145":0.104,"146":0.105,"147":0.104,"148":0.105},
{"w":1380,"143":0.087,"144":0.087,"145":0.086,"146":0.087,"147":0.086,"148":0.087},
{"w":1340,"143":0.084,"144":0.084,"145":0.083,"146":0.084,"147":0.083,"148":0.084},
{"w":1300,"143":0.082,"144":0.082,"145":0.081,"146":0.082,"147":0.081,"148":0.082},
{"w":1260,"143":0.079,"144":0.079,"145":0.078,"146":0.079,"147":0.078,"148":0.079},
{"w":1220,"143":0.073,"144":0.073,"145":0.072,"146":0.073,"147":0.072,"148":0.073},
{"w":1180,"143":0.071,"144":0.071,"145":0.07,"146":0.071,"147":0.07,"148":0.071},
{"w":1130,"143":0.069,"144":0.069,"145":0.068,"146":0.069,"147":0.068,"148":0.069},
{"w":1080,"143":0.073,"144":0.073,"145":0.072,"146":0.073,"147":0.072,"148":0.073},
{"w":1060,"143":0.067,"144":0.067,"145":0.066,"146":0.067,"147":0.066,"148":0.067},
{"w":1020,"143":0.061,"144":0.061,"145":0.06,"146":0.061,"147":0.06,"148":0.061},
{"w":990,"143":0.058,"144":0.058,"145":0.057,"146":0.058,"147":0.057,"148":0.058},
{"w":950,"143":0.061,"144":0.061,"145":0.06,"146":0.061,"147":0.06,"148":0.061},
{"w":900,"143":0.081,"144":0.081,"145":0.08,"146":0.081,"147":0.08,"148":0.081},
{"w":850,"143":0.111,"144":0.111,"145":0.11,"146":0.111,"147":0.11,"148":0.111},
{"w":800,"143":0.151,"144":0.151,"145":0.15,"146":0.151,"147":0.15,"148":0.151},
{"w":760,"143":0.196,"144":0.196,"145":0.195,"146":0.196,"147":0.195,"148":0.196},
{"w":720,"143":0.229,"144":0.229,"145":0.228,"146":0.229,"147":0.228,"148":0.229},
{"w":680,"143":0.255,"144":0.255,"145":0.253,"146":0.254,"147":0.253,"148":0.255},
{"w":640,"143":0.272,"144":0.272,"145":0.27,"146":0.271,"147":0.27,"148":0.272},
{"w":600,"143":0.279,"144":0.279,"145":0.277,"146":0.278,"147":0.277,"148":0.279},
{"w":560,"143":0.277,"144":0.277,"145":0.275,"146":0.276,"147":0.275,"148":0.277},
{"w":520,"143":0.27,"144":0.27,"145":0.268,"146":0.269,"147":0.268,"148":0.27},
{"w":480,"143":0.259,"144":0.259,"145":0.257,"146":0.258,"147":0.257,"148":0.259},
{"w":440,"143":0.244,"144":0.245,"145":0.242,"146":0.243,"147":0.242,"148":0.244},
{"w":400,"143":0.222,"144":0.224,"145":0.22,"146":0.221,"147":0.219,"148":0.223}
]
},
"vconcat": [
{"resolve": {"scale": {"color": "independent"}, "legend": {"color": "independent"}},
 "hconcat": [
{"width": 581, "height": 309, "title": {"text": "Control"},
 "layer": [
  {"data": {"name": "A"}, "transform": [{"fold": ["125","126","127","128","129","136"], "as": ["sample","abs"]}],
   "mark": {"type": "line"},
   "encoding": {
    "x": {"field": "w", "type": "quantitative", "scale": {"domain": [400, 4000], "reverse": true, "nice": false, "zero": false}, "axis": {"title": "Número de onda"}},
    "y": {"field": "abs", "type": "quantitative", "scale": {"domain": [0, 1.2], "nice": false}, "axis": {"title": "Absorbancia"}},
    "color": {"field": "sample", "type": "nominal", "scale": {"range": ["#E5393A","#F26666","#FFC72C","#33B26B","#1FB5E8","#7030A0"]}, "legend": {"legendX": 633, "legendY": 29}}
   }},
  {"data": {"values": [{"t": "A"}]},
   "mark": {"type": "text", "align": "left", "baseline": "alphabetic", "dx": -80, "dy": -43, "fontSize": 35, "font": "Lato", "color": "#000000"},
   "encoding": {"x": {"datum": 4000, "type": "quantitative", "axis": {"title": "Número de onda"}}, "y": {"datum": 1.2, "type": "quantitative", "axis": {"title": "Absorbancia"}}, "text": {"field": "t"}}}
 ]},
{"width": 581, "height": 309, "title": {"text": "CLA"},
 "layer": [
  {"data": {"name": "B"}, "transform": [{"fold": ["130","131","132","133","134","135"], "as": ["sample","abs"]}],
   "mark": {"type": "line"},
   "encoding": {
    "x": {"field": "w", "type": "quantitative", "scale": {"domain": [400, 4000], "reverse": true, "nice": false, "zero": false}, "axis": {"title": "Número de onda"}},
    "y": {"field": "abs", "type": "quantitative", "scale": {"domain": [0, 1.2], "nice": false}, "axis": {"title": "Absorbancia"}},
    "color": {"field": "sample", "type": "nominal", "scale": {"range": ["#E23B3B","#F36262","#FFCC33","#3CBF7A","#22B2EE","#6E2FA0"]}, "legend": {"legendX": 633, "legendY": 29}}
   }},
  {"data": {"values": [{"t": "B"}]},
   "mark": {"type": "text", "align": "left", "baseline": "alphabetic", "dx": -81, "dy": -43, "fontSize": 35, "font": "Lato", "color": "#000000"},
   "encoding": {"x": {"datum": 4000, "type": "quantitative", "axis": {"title": "Número de onda"}}, "y": {"datum": 1.2, "type": "quantitative", "axis": {"title": "Absorbancia"}}, "text": {"field": "t"}}}
 ]}
], "spacing": 93},
{"resolve": {"scale": {"color": "independent"}, "legend": {"color": "independent"}},
 "hconcat": [
{"width": 581, "height": 309, "title": {"text": "Lino"},
 "layer": [
  {"data": {"name": "C"}, "transform": [{"fold": ["137","138","139","140","141","142"], "as": ["sample","abs"]}],
   "mark": {"type": "line"},
   "encoding": {
    "x": {"field": "w", "type": "quantitative", "scale": {"domain": [400, 4000], "reverse": true, "nice": false, "zero": false}, "axis": {"title": "Número de onda"}},
    "y": {"field": "abs", "type": "quantitative", "scale": {"domain": [0, 1.2], "nice": false}, "axis": {"title": "Absorbancia"}},
    "color": {"field": "sample", "type": "nominal", "scale": {"range": ["#C00000","#F23A3A","#FFC833","#2EA85E","#3DBFF0","#9064C8"]}, "legend": {"legendX": 633, "legendY": 26}}
   }},
  {"data": {"values": [{"t": "C"}]},
   "mark": {"type": "text", "align": "left", "baseline": "alphabetic", "dx": -81, "dy": -43, "fontSize": 35, "font": "Lato", "color": "#000000"},
   "encoding": {"x": {"datum": 4000, "type": "quantitative", "axis": {"title": "Número de onda"}}, "y": {"datum": 1.2, "type": "quantitative", "axis": {"title": "Absorbancia"}}, "text": {"field": "t"}}}
 ]},
{"width": 581, "height": 309, "title": {"text": "L+CLA"},
 "layer": [
  {"data": {"name": "D"}, "transform": [{"fold": ["143","144","145","146","147","148"], "as": ["sample","abs"]}],
   "mark": {"type": "line"},
   "encoding": {
    "x": {"field": "w", "type": "quantitative", "scale": {"domain": [400, 4000], "reverse": true, "nice": false, "zero": false}, "axis": {"title": "Número de onda"}},
    "y": {"field": "abs", "type": "quantitative", "scale": {"domain": [0, 1.2], "nice": false}, "axis": {"title": "Absorbancia"}},
    "color": {"field": "sample", "type": "nominal", "scale": {"range": ["#C9403C","#FF6363","#FFD15A","#3CB371","#23B3F0","#6B2C9E"]}, "legend": {"legendX": 637, "legendY": 29}}
   }},
  {"data": {"values": [{"t": "D"}]},
   "mark": {"type": "text", "align": "left", "baseline": "alphabetic", "dx": -81, "dy": -43, "fontSize": 35, "font": "Lato", "color": "#000000"},
   "encoding": {"x": {"datum": 4000, "type": "quantitative", "axis": {"title": "Número de onda"}}, "y": {"datum": 1.2, "type": "quantitative", "axis": {"title": "Absorbancia"}}, "text": {"field": "t"}}}
 ]}
], "spacing": 93}
],
"spacing": 64
}
